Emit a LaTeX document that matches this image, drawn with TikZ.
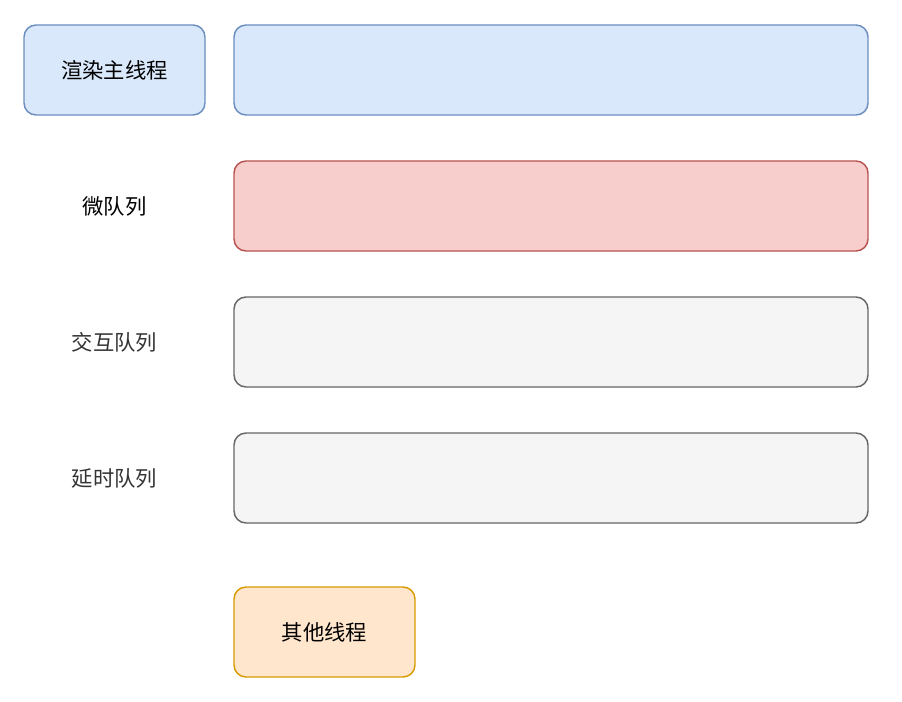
\documentclass[tikz,border=0pt]{standalone}
\usepackage{fontspec}
\newfontfamily\cjk{Noto Sans CJK SC}
\usetikzlibrary{positioning}

\definecolor{blueFill}{HTML}{DAE8FC}
\definecolor{blueLine}{HTML}{6C8EBF}
\definecolor{redFill}{HTML}{F8CECC}
\definecolor{redLine}{HTML}{B85450}
\definecolor{grayFill}{HTML}{F5F5F5}
\definecolor{grayLine}{HTML}{666666}
\definecolor{orangeFill}{HTML}{FFE6CC}
\definecolor{orangeLine}{HTML}{D79B00}
\definecolor{labelGray}{HTML}{333333}

\begin{document}
\begin{tikzpicture}[x=0.75pt,y=-0.75pt,node distance=102pt,
	box/.style={rounded corners=9pt,line width=1.1pt,inner sep=0pt,font=\cjk\fontsize{16}{19}\selectfont},
	shortbox/.style={box,minimum width=135.75pt,minimum height=67.5pt},
	longbox/.style={box,minimum width=475.5pt,minimum height=67.5pt},
	queue/.style={font=\cjk\fontsize{16}{19}\selectfont,inner sep=0pt}]

\useasboundingbox (0,0) rectangle (902,702);

\node[shortbox,draw=blueLine,fill=blueFill]   (main)   at (114.5,70)  {渲染主线程};
\node[longbox,draw=blueLine,fill=blueFill]    (mainq)  at (551,70)    {};

\node[queue]                                  (micro)  [below of=main]   {微队列};
\node[longbox,draw=redLine,fill=redFill]      (microq) [below of=mainq]  {};

\node[queue,text=labelGray]                   (input)  [below of=micro]  {交互队列};
\node[longbox,draw=grayLine,fill=grayFill]    (inputq) [below of=microq] {};

\node[queue,text=labelGray]                   (timer)  [below of=input]  {延时队列};
\node[longbox,draw=grayLine,fill=grayFill]    (timerq) [below of=inputq] {};

\node[shortbox,draw=orangeLine,fill=orangeFill] (other) at (324.5,632) {其他线程};

\end{tikzpicture}
\end{document}
